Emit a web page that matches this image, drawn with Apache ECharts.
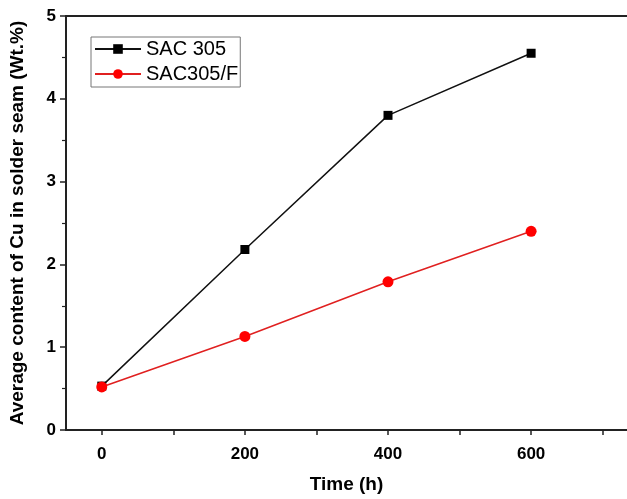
<!DOCTYPE html>
<html>
<head>
<meta charset="utf-8">
<script src="https://cdn.jsdelivr.net/npm/echarts@6/dist/echarts.min.js"></script>
<style>
  html, body { margin: 0; padding: 0; background: #fff; }
  #main { width: 627px; height: 499px; }
</style>
</head>
<body>
<div id="main"></div>
<script>
// values
const hours = [0, 200, 400, 600];
const sac305 = [0.53, 2.18, 3.8, 4.55];
const sac305F = [0.52, 1.13, 1.79, 2.4];
const xTicks = [0, 100, 200, 300, 400, 500, 600, 700];
const xLabels = [0, 200, 400, 600];

const font = "Liberation Sans, Arial, sans-serif";

let chart = echarts.init(document.getElementById("main"));
chart.setOption({
  animation: false,
  backgroundColor: "#fff",
  grid: {
    left: 66,
    top: 16,
    right: 0,
    bottom: 67,
  },
  legend: {
    orient: "vertical",
    left: 91,
    top: 37,
    padding: [2, 2, 3, 3],
    itemWidth: 46,
    itemHeight: 12,
    itemGap: 5,
    borderColor: "#777",
    borderWidth: 1,
    textStyle: { fontFamily: font, fontSize: 20, color: "#000" },
    data: ["SAC 305", "SAC305/F"],
  },
  xAxis: [
    {
      type: "value",
      min: -50,
      max: 734,
      name: "Time (h)",
      nameLocation: "middle",
      nameGap: 45,
      nameTextStyle: { fontFamily: font, fontSize: 19, fontWeight: "bold", color: "#000" },
      splitLine: { show: false },
      axisLine: { show: true, onZero: false, lineStyle: { color: "#222", width: 2 } },
      axisTick: { show: true, customValues: xTicks, length: 5, lineStyle: { color: "#222", width: 1.5 } },
      axisLabel: {
        customValues: xLabels,
        margin: 16,
        fontFamily: font,
        fontSize: 17,
        fontWeight: "bold",
        color: "#000",
      },
    },
    {
      // top frame line
      type: "value",
      position: "top",
      min: -50,
      max: 734,
      splitLine: { show: false },
      axisLine: { show: true, onZero: false, lineStyle: { color: "#222", width: 2 } },
      axisTick: { show: false },
      axisLabel: { show: false },
    },
  ],
  yAxis: {
    type: "value",
    min: 0,
    max: 5,
    interval: 1,
    name: "Average content of Cu in solder seam (Wt.%)",
    nameLocation: "middle",
    nameGap: 39,
    nameTextStyle: { fontFamily: font, fontSize: 19, fontWeight: "bold", color: "#000" },
    splitLine: { show: false },
    axisLine: { show: true, onZero: false, lineStyle: { color: "#222", width: 2 } },
    axisTick: { show: true, length: 6, lineStyle: { color: "#222", width: 1.5 } },
    minorTick: { show: true, splitNumber: 2, length: 4, lineStyle: { color: "#222", width: 1.2 } },
    axisLabel: {
      margin: 10,
      fontFamily: font,
      fontSize: 17,
      fontWeight: "bold",
      color: "#000",
    },
  },
  series: [
    {
      name: "SAC 305",
      type: "line",
      data: hours.map((h, i) => [h, sac305[i]]),
      symbol: "rect",
      symbolSize: 9,
      lineStyle: { color: "#111", width: 1.5 },
      itemStyle: { color: "#000" },
    },
    {
      name: "SAC305/F",
      type: "line",
      data: hours.map((h, i) => [h, sac305F[i]]),
      symbol: "circle",
      symbolSize: 11,
      lineStyle: { color: "#e02020", width: 1.5 },
      itemStyle: { color: "#ff0000" },
    },
  ],
});
</script>
</body>
</html>
